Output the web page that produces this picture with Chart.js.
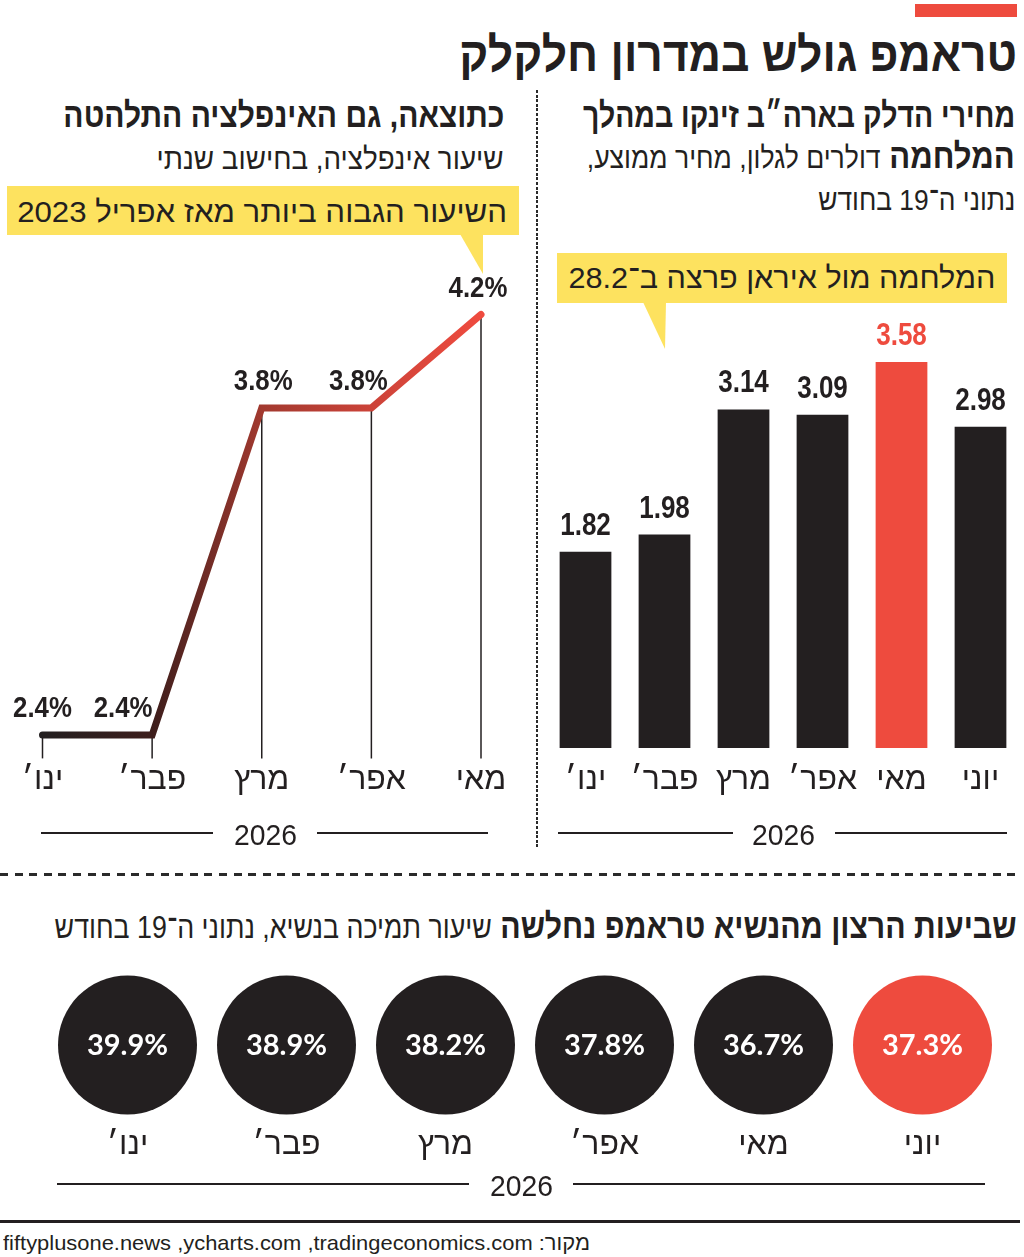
<!DOCTYPE html>
<html lang="he">
<head>
<meta charset="utf-8">
<script src="https://cdn.jsdelivr.net/npm/chart.js@4.4.1/dist/chart.umd.min.js"></script>
<style>
html,body{margin:0;padding:0;background:#fff;}
#page{position:relative;width:1024px;height:1257px;overflow:hidden;background:#fff;color:#231f20;
  font-family:"Liberation Sans","DejaVu Sans",Arial,sans-serif;}
.t{position:absolute;white-space:nowrap;line-height:1;}
.abs{position:absolute;}
canvas{position:absolute;}
</style>
</head>
<body>
<div id="page">
  <canvas id="fuel" width="484" height="520" style="left:540px;top:300px"></canvas>
  <canvas id="infl" width="530" height="580" style="left:0px;top:240px"></canvas>
  <canvas id="appr" width="1024" height="216" style="left:0px;top:960px"></canvas>
</div>
<script>
// ---------------- DATA ----------------
const fuelMonths = ['ינו׳', 'פבר׳', 'מרץ', 'אפר׳', 'מאי', 'יוני'];
const fuelPrice  = [1.82, 1.98, 3.14, 3.09, 3.58, 2.98];          // $ per gallon
const fuelHighlight = 'מאי';

const inflMonths = ['ינו׳', 'פבר׳', 'מרץ', 'אפר׳', 'מאי'];
const inflation  = [2.4, 2.4, 3.8, 3.8, 4.2];                     // % yearly

const apprMonths = ['ינו׳', 'פבר׳', 'מרץ', 'אפר׳', 'מאי', 'יוני'];
const approval   = [39.9, 38.9, 38.2, 37.8, 36.7, 37.3];          // % approval
const apprHighlight = 'יוני';

const yearLabel = '2026';

// ---------------- STYLE ----------------
const INK = '#231f20', RED = '#ee4b3e', YELLOW = '#fde25f';
const FONT = '"Liberation Sans","DejaVu Sans",Arial,sans-serif';
const page = document.getElementById('page');

function box(l, t, w, h, css) {
  const d = document.createElement('div');
  d.className = 'abs';
  d.style.cssText += `left:${l}px;top:${t}px;width:${w}px;height:${h}px;` + (css || '');
  page.appendChild(d);
  return d;
}
function text(spec) {
  const d = document.createElement('div');
  d.className = 't';
  d.dir = spec.dir || 'rtl';
  d.innerHTML = spec.html;
  d.style.fontSize = spec.size + 'px';
  d.style.fontWeight = spec.bold ? '700' : '400';
  if (spec.color) d.style.color = spec.color;
  d.style.left = '0px'; d.style.top = '0px';
  const probe = document.createElement('span');
  probe.style.cssText = 'display:inline-block;width:0;height:0;vertical-align:baseline;';
  d.appendChild(probe);
  page.appendChild(d);
  const r0 = d.getBoundingClientRect();
  const baseOff = probe.getBoundingClientRect().top - r0.top;
  const w = r0.width;
  const sx = spec.w ? spec.w / w : 1;
  d.style.top = (spec.base - baseOff) + 'px';
  if (spec.r != null) {
    d.style.left = 'auto';
    d.style.right = (1024 - spec.r) + 'px';
    d.style.transformOrigin = 'right top';
  } else {
    const left = spec.cx != null ? spec.cx - spec.w / 2 : spec.l;
    d.style.left = left + 'px';
    d.style.transformOrigin = 'left top';
  }
  d.style.transform = `scaleX(${sx})`;
}

// decorations
box(915, 4, 102, 13, `background:${RED}`);
box(536, 90, 2, 758, 'background:repeating-linear-gradient(to bottom,#2a2a2a 0 3px,transparent 3px 4.6px)');
box(0, 873, 1022, 3, 'background:repeating-linear-gradient(to right,#2a2a2a 0 8px,transparent 8px 14.6px)');
box(0, 1220, 1020, 3, `background:${INK}`);

// callouts
box(557, 253, 450, 50, `background:${YELLOW}`);
box(640, 302, 30, 47, `background:${YELLOW};clip-path:polygon(3px 0,26px 0,25px 100%)`);
box(7, 186, 512, 49, `background:${YELLOW}`);
box(455, 234, 32, 40, `background:${YELLOW};clip-path:polygon(5px 0,28px 0,28px 100%)`);

// year rules
box(558, 832, 175, 1.5, `background:${INK}`); box(835, 832, 172, 1.5, `background:${INK}`);
box(41, 832, 172, 1.5, `background:${INK}`);  box(317, 832, 171, 1.5, `background:${INK}`);
box(57, 1183, 412, 1.5, `background:${INK}`); box(573, 1183, 412, 1.5, `background:${INK}`);

// texts
text({html:'טראמפ גולש במדרון חלקלק', r:1017, base:71, size:48, w:558, bold:true});
text({html:'מחירי הדלק בארה״ב זינקו במהלך', r:1015, base:127, size:35, w:432, bold:true});
text({html:'<b>המלחמה</b> <span style="font-size:30px">דולרים לגלון, מחיר ממוצע,</span>', r:1015, base:168, size:35, w:428});
text({html:'נתוני ה־19 בחודש', r:1015, base:210, size:30, w:197});
text({html:'כתוצאה, גם האינפלציה התלהטה', r:504, base:127, size:35, w:441, bold:true});
text({html:'שיעור אינפלציה, בחישוב שנתי', r:504, base:169, size:30, w:347});
text({html:'המלחמה מול איראן פרצה ב־28.2', r:995, base:288, size:30, w:427});
text({html:'השיעור הגבוה ביותר מאז אפריל 2023', r:507, base:222, size:30, w:490});
text({html:'<b>שביעות הרצון מהנשיא טראמפ נחלשה</b> <span style="font-size:31px">שיעור תמיכה בנשיא, נתוני ה־19 בחודש</span>', r:1017, base:938, size:35, w:962});
text({html:yearLabel, cx:783, base:845, size:30, w:63, dir:'ltr'});
text({html:yearLabel, cx:265, base:845, size:30, w:63, dir:'ltr'});
text({html:yearLabel, cx:521, base:1196, size:30, w:63, dir:'ltr'});
text({html:'fiftyplusone.news ,ycharts.com ,tradingeconomics.com :מקור', l:3, base:1250, size:21, w:587, dir:'ltr'});

// ---------------- CHARTS ----------------
Chart.defaults.font.family = FONT;
Chart.defaults.color = INK;
const base = {responsive:false, animation:false, devicePixelRatio:1, events:[]};
const noPlug = {legend:{display:false}, tooltip:{enabled:false}};
const tickFont = {size:32, family:FONT};

// Fuel bars
const barValueLabels = {
  id:'barValueLabels',
  afterDatasetsDraw(chart) {
    const ctx = chart.ctx;
    ctx.save();
    ctx.textAlign = 'center'; ctx.textBaseline = 'alphabetic';
    ctx.font = `700 31px ${FONT}`;
    chart.getDatasetMeta(0).data.forEach((bar, i) => {
      ctx.fillStyle = fuelMonths[i] === fuelHighlight ? RED : INK;
      ctx.save(); ctx.translate(bar.x, bar.y - 17); ctx.scale(0.84, 1);
      ctx.fillText(fuelPrice[i].toFixed(2), 0, 0);
      ctx.restore();
    });
    ctx.restore();
  }
};
new Chart(document.getElementById('fuel'), {
  type:'bar',
  data:{labels:fuelMonths, datasets:[{
    data:fuelPrice,
    backgroundColor:fuelMonths.map(m => m === fuelHighlight ? RED : INK),
    categoryPercentage:1, barPercentage:0.655, borderWidth:0
  }]},
  options:{...base,
    layout:{autoPadding:false, padding:{left:6, right:4, top:16.7, bottom:8}},
    plugins:noPlug,
    scales:{
      x:{grid:{display:false, drawTicks:false}, border:{display:false},
         ticks:{padding:12.8, color:INK, font:tickFont, maxRotation:0, autoSkip:false}},
      y:{display:false, min:0, max:4}
    }
  },
  plugins:[barValueLabels]
});

// Inflation line
const labelNudge = [0, -29, 1.5, -13, -3];
const lineExtras = {
  id:'lineExtras',
  beforeDatasetsDraw(chart) {
    const ctx = chart.ctx, bottom = chart.chartArea.bottom;
    ctx.save(); ctx.strokeStyle = INK; ctx.lineWidth = 1.5;
    chart.getDatasetMeta(0).data.forEach(p => {
      ctx.beginPath(); ctx.moveTo(p.x, p.y); ctx.lineTo(p.x, bottom); ctx.stroke();
    });
    ctx.restore();
  },
  afterDatasetsDraw(chart) {
    const ctx = chart.ctx;
    ctx.save(); ctx.textAlign = 'center'; ctx.textBaseline = 'alphabetic';
    ctx.font = `700 30px ${FONT}`; ctx.fillStyle = INK;
    chart.getDatasetMeta(0).data.forEach((p, i) => {
      ctx.save(); ctx.translate(p.x + labelNudge[i], p.y - 18); ctx.scale(0.86, 1);
      ctx.fillText(inflation[i].toFixed(1) + '%', 0, 0);
      ctx.restore();
    });
    ctx.restore();
  }
};
new Chart(document.getElementById('infl'), {
  type:'line',
  data:{labels:inflMonths, datasets:[{
    data:inflation,
    borderColor:(c) => {
      const a = c.chart.chartArea;
      if (!a) return INK;
      const g = c.chart.ctx.createLinearGradient(a.left, 0, a.right, 0);
      g.addColorStop(0, '#231f20'); g.addColorStop(0.25, '#3d1e1c');
      g.addColorStop(0.5, '#a2392f'); g.addColorStop(0.75, '#cc4339'); g.addColorStop(1, '#ef4b3f');
      return g;
    },
    borderWidth:7, pointRadius:0, tension:0, borderCapStyle:'round', borderJoinStyle:'miter', clip:false
  }]},
  options:{...base,
    layout:{autoPadding:false, padding:{left:42.5, right:49, top:27.8, bottom:17.4}},
    plugins:noPlug,
    scales:{
      x:{offset:false, grid:{display:false, drawTicks:false}, border:{display:false},
         ticks:{padding:2.9, color:INK, font:tickFont, maxRotation:0, autoSkip:false}},
      y:{display:false, min:2.3, max:4.4}
    }
  },
  plugins:[lineExtras]
});

// Approval circles
const circleLabels = {
  id:'circleLabels',
  afterDatasetsDraw(chart) {
    const ctx = chart.ctx;
    ctx.save(); ctx.textAlign = 'center'; ctx.textBaseline = 'middle';
    ctx.font = '700 29px Lato, "Liberation Sans", sans-serif'; ctx.fillStyle = '#fff';
    chart.getDatasetMeta(0).data.forEach((p, i) => {
      ctx.fillText(approval[i].toFixed(1) + '%', p.x, p.y + 1);
    });
    ctx.restore();
  }
};
new Chart(document.getElementById('appr'), {
  type:'line',
  data:{labels:apprMonths, datasets:[{
    data:apprMonths.map(m => ({x:m, y:'row'})),
    showLine:false, pointRadius:69.5, pointHoverRadius:69.5, pointBorderWidth:0,
    pointBackgroundColor:apprMonths.map(m => m === apprHighlight ? RED : INK), clip:false
  }]},
  options:{...base,
    layout:{autoPadding:false, padding:{left:48, right:22, top:15, bottom:0}},
    plugins:noPlug,
    scales:{
      x:{offset:true, grid:{display:false, drawTicks:false}, border:{display:false},
         ticks:{padding:11.3, color:INK, font:tickFont, maxRotation:0, autoSkip:false}},
      y:{type:'category', labels:['row'], offset:true, display:false}
    }
  },
  plugins:[circleLabels]
});
</script>
</body>
</html>
